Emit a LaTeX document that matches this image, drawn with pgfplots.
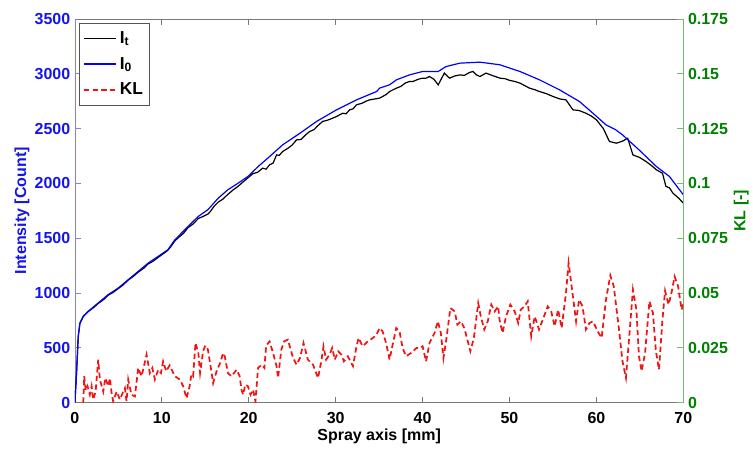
\documentclass[border=0pt]{standalone}
\usepackage{fontspec}
\setmainfont{Liberation Sans}
\usepackage{pgfplots}
\pgfplotsset{compat=1.18}
\definecolor{mblue}{RGB}{20,20,235}
\definecolor{mgreen}{RGB}{0,128,0}
\definecolor{lblue}{RGB}{130,130,230}
\definecolor{lgreen}{RGB}{120,185,120}
\definecolor{agray}{RGB}{120,120,120}
\definecolor{lred}{RGB}{240,20,20}
\begin{document}
\begin{tikzpicture}
\pgfplotsset{
  common/.style={width=456.75pt,height=288pt,scale only axis,xmin=0,xmax=70,enlargelimits=false,
    tick align=inside, major tick length=4.5pt,
    every tick label/.append style={font=\fontsize{12}{14}\selectfont\bfseries},
    label style={font=\fontsize{12}{14}\selectfont\bfseries}},
}
\begin{axis}[common, ymin=0, ymax=3500,
  separate axis lines,
  x axis line style={agray,line width=0.6pt},
  y axis line style={lblue,line width=0.6pt},
  xtick={0,10,20,30,40,50,60,70}, xticklabels={0,10,20,30,40,50,60,70},
  ytick={0,500,1000,1500,2000,2500,3000,3500}, yticklabels={0,500,1000,1500,2000,2500,3000,3500},
  ytick pos=left, xtick pos=both,
  xticklabel style={yshift=-4pt},
  x tick style={agray,line width=0.6pt}, y tick style={lblue,line width=0.6pt},
  yticklabel style={mblue},
  xlabel={Spray axis [mm]}, ylabel={Intensity [Count]},
  xlabel style={at={(rel axis cs:0.5,-0.0885)},anchor=center},
  ylabel style={mblue,at={(rel axis cs:-0.087,0.5)},anchor=center},
  legend style={at={(rel axis cs:0.0066,0.9896)},anchor=north west,draw=agray!70!black,
    fill=white,font=\fontsize{13}{15}\selectfont\bfseries,inner xsep=3pt,inner ysep=4pt,row sep=5pt,
    cells={anchor=west}},
  legend image code/.code={\draw[#1] (0cm,0cm) -- (0.85cm,0cm);},
]
\coordinate (bbl) at (rel axis cs:-0.12315,-0.11719);
\coordinate (btr) at (rel axis cs:1.1133,1.04948);
\addplot[black,line width=0.9pt] coordinates {
(0,0) (0.2,290) (0.38,600) (0.57,720) (0.96,785) (1.53,830) (2.2,870) (2.68,905) (3.3,940) (3.83,980) (4.4,1005) (4.98,1040)
(5.5,1070) (6.13,1118) (6.7,1150) (7.28,1190) (7.9,1225) (8.43,1265) (9.0,1290) (9.58,1325) (10.2,1360) (10.7,1390) (11.1,1430) (11.5,1475) (11.9,1505)
(12.5,1545) (13.0,1595) (13.6,1630) (14.2,1680) (14.8,1700) (15.3,1720) (15.6,1745) (16.0,1790) (16.5,1830) (17.0,1855) (17.6,1900) (18.2,1940) (18.8,1975) (19.3,2010) (19.9,2050)
(20.5,2090) (21.0,2100) (21.6,2139) (22.0,2130) (22.4,2170) (22.8,2185) (23.2,2260) (23.5,2255) (23.9,2291) (24.5,2320) (25.0,2350) (25.5,2397)
(26.0,2400) (26.5,2440) (27.0,2473) (27.5,2490) (28.0,2530) (28.5,2565) (29.0,2575) (29.5,2590)
(30.1,2610) (30.8,2640) (31.2,2635) (31.6,2671) (32.0,2680) (32.4,2717) (33.0,2730) (33.5,2750) (33.9,2762) (34.5,2770) (35.06,2778) (35.4,2793) (35.8,2810) (36.2,2838) (36.6,2854)
(37.0,2869) (37.5,2885) (38.0,2915) (38.5,2930) (38.9,2930) (39.5,2950) (40.0,2960) (40.4,2960) (40.8,2975) (41.3,2950) (41.8,2899) (42.5,3006)
(43.1,2960) (43.7,2980) (44.3,2990) (44.8,2985) (45.4,3012) (45.8,3021) (46.2,2990) (46.6,2975) (47.3,3006) (48.0,2985) (48.9,2960) (49.5,2955) (50.0,2940)
(50.6,2930) (51.2,2915) (51.8,2890) (52.3,2869) (52.9,2855) (53.45,2838) (54.2,2820) (55.0,2793) (55.8,2770) (56.5,2762) (57.3,2671) (58.0,2665) (58.8,2640) (59.4,2615) (60.0,2580)
(60.8,2500) (61.5,2382) (62.3,2367) (63.0,2385) (63.6,2412) (64.2,2260) (65.0,2235) (65.7,2200) (66.3,2165) (66.9,2124)
(67.6,2093) (68.0,1972) (68.4,1960) (68.8,1911) (69.4,1870) (70,1820)
};
\addlegendentry{I\textsubscript{t}}
\addplot[blue,line width=0.9pt] coordinates {
(0,0) (0.2,300) (0.38,604) (0.57,726) (0.96,788) (1.53,833) (2.68,909) (3.83,985) (4.98,1045)
(6.13,1121) (7.28,1197) (8.43,1273) (9.58,1334) (10.7,1395) (11.1,1440) (11.5,1486) (11.9,1517)
(13.0,1607) (14.2,1699) (15.3,1760) (16.5,1866) (17.6,1942) (18.8,2003) (19.9,2063) (21.1,2155)
(22.4,2245) (23.9,2352) (25.9,2458) (27.8,2565) (30.1,2671) (32.4,2762) (34.7,2838) (35.06,2869)
(36.2,2899) (37.0,2945) (38.5,2990) (40.0,3021) (41.8,3021) (42.7,3066) (44.3,3097) (46.6,3106)
(48.9,3082) (51.2,3021) (53.45,2945) (55.75,2854) (58.05,2747) (59.6,2640) (61.1,2534) (62.2,2490)
(63.0,2443) (64.9,2306) (66.9,2154) (68.4,2063) (70,1896)
};
\addlegendentry{I\textsubscript{0}}
\addlegendimage{lred,line width=1.3pt,dash pattern=on 4pt off 2.5pt}
\addlegendentry{KL}
\end{axis}
\begin{axis}[common, ymin=0, ymax=0.175,
  axis x line=none, axis y line*=right,
  y axis line style={lgreen,line width=0.6pt}, y tick style={lgreen,line width=0.6pt},
  yticklabel style={mgreen},
  ytick={0,0.025,0.05,0.075,0.1,0.125,0.15,0.175},
  yticklabels={0,0.025,0.05,0.075,0.1,0.125,0.15,0.175},
  ylabel={KL [-]},
  ylabel style={mgreen,at={(rel axis cs:1.095,0.5)},anchor=center},
]
\addplot[lred,line width=1.3pt,dash pattern=on 4pt off 2.5pt] coordinates {
(0.96,0) (1.07,0.012) (1.25,0.0055) (1.45,0.0075) (1.72,0.0036) (1.92,0.0075) (2.1,0.0014) (2.38,0.005)
(2.68,0.0196) (2.87,0.0105) (3.26,0.005) (3.5,0.0112) (3.83,0.0075) (4.02,0.0112) (4.2,0.005) (4.4,0.0006)
(4.8,0.005) (5.17,0.0014) (5.56,0.005) (5.75,0.0066) (5.94,0.0006) (6.13,0.0105) (6.5,0.0036) (6.9,0.0028)
(7.28,0.0158) (7.66,0.012) (7.85,0.015) (8.24,0.0219) (8.62,0.0135) (8.9,0.0158) (9.2,0.0105) (9.58,0.015)
(9.9,0.0135) (10.15,0.0188) (10.5,0.0143) (10.9,0.017) (11.5,0.0120) (12.07,0.0105) (12.45,0.0075)
(12.84,0.002) (13.2,0.0075) (13.4,0.0128) (13.6,0.012) (13.87,0.0272) (14.2,0.0227) (14.4,0.0135)
(14.75,0.0235) (15.0,0.026) (15.3,0.0242) (15.7,0.0143) (15.9,0.0089) (16.3,0.0143) (16.7,0.018)
(17.05,0.0226) (17.24,0.0211) (17.6,0.0135) (18.0,0.012) (18.6,0.0150) (18.96,0.012) (19.16,0.0059)
(19.35,0.0036) (19.6,0.0082) (19.9,0.0075) (20.2,0.0036) (20.5,0.0059) (20.77,0.0005) (21.07,0.0158)
(21.5,0.0173) (21.8,0.0158) (22.0,0.026) (22.4,0.0279) (22.8,0.0226) (23.2,0.0166) (23.37,0.0112)
(23.75,0.0242) (24.06,0.0279) (24.5,0.0287) (25.1,0.0204) (25.5,0.0173) (25.9,0.0204) (26.3,0.0272)
(26.8,0.0196) (27.4,0.0173) (27.97,0.0112) (28.35,0.0189) (28.6,0.0257) (28.9,0.0196) (29.3,0.0219)
(29.6,0.0249) (29.9,0.0196) (30.3,0.0234) (30.65,0.0219) (30.95,0.0188) (31.4,0.0211) (31.99,0.0166)
(32.4,0.0257) (32.64,0.0295) (33.1,0.0257) (33.7,0.0279) (34.3,0.0295) (34.7,0.031) (35.05,0.034)
(35.4,0.0325) (35.8,0.0272) (36.2,0.0196) (36.6,0.0272) (36.97,0.034) (37.35,0.0325) (37.7,0.0249)
(38.1,0.0211) (38.7,0.0227) (39.3,0.0249) (39.7,0.0249) (40.0,0.0257) (40.4,0.0188) (40.8,0.0272)
(41.38,0.0318) (41.76,0.0371) (42.1,0.0318) (42.4,0.0203) (42.7,0.0280) (43.2,0.0431) (43.7,0.0416)
(44.0,0.0356) (44.4,0.0371) (44.8,0.0340) (45.1,0.0295) (45.5,0.0234) (45.9,0.0295) (46.4,0.0454)
(46.7,0.0393) (47.1,0.0333) (47.5,0.0371) (47.9,0.0447) (48.3,0.0416) (48.7,0.0439) (48.85,0.0378)
(49.2,0.0318) (49.6,0.0393) (50.1,0.0447) (50.6,0.0416) (51.0,0.0363) (51.3,0.0424) (51.72,0.0439)
(52.1,0.0462) (52.5,0.0302) (52.9,0.0393) (53.4,0.0333) (54.4,0.0439) (54.8,0.0416) (55.2,0.0348)
(55.6,0.0424) (56.0,0.0340) (56.5,0.0500) (56.8,0.0637) (57.2,0.0515) (57.66,0.0371) (58.0,0.0469)
(58.4,0.0439) (58.8,0.0333) (59.2,0.0363) (59.6,0.0371) (60.15,0.0325) (60.6,0.0295) (61.1,0.0469)
(61.6,0.0580) (62.0,0.0530) (62.6,0.0333) (63.0,0.0189) (63.4,0.0113) (63.9,0.0363) (64.2,0.0515)
(64.6,0.0424) (64.9,0.0211) (65.2,0.0143) (65.6,0.0227) (66.1,0.0462) (66.5,0.0409) (66.85,0.0234)
(67.2,0.0150) (67.6,0.0378) (67.9,0.0510) (68.3,0.0447) (68.6,0.0493) (69.0,0.0575) (69.4,0.0530)
(69.8,0.0424) (70,0.045)
};
\end{axis}
\path (bbl) rectangle (btr);
\end{tikzpicture}
\end{document}
